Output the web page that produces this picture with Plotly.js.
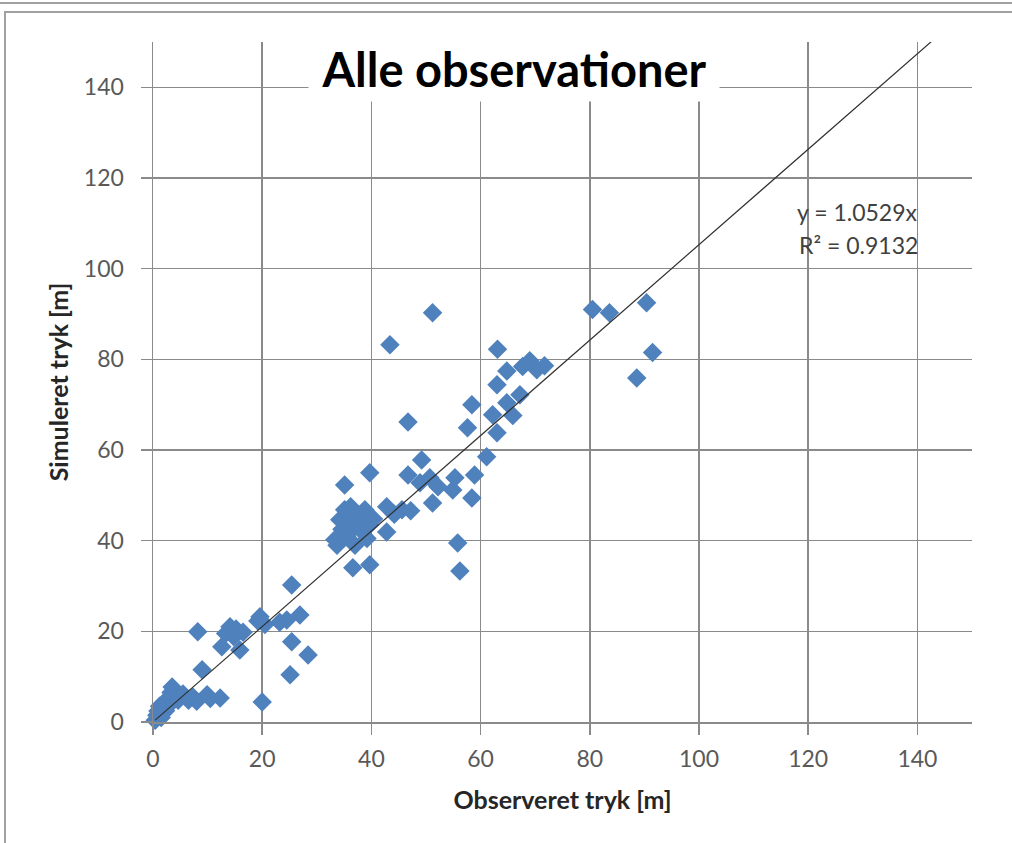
<!DOCTYPE html>
<html>
<head>
<meta charset="utf-8">
<script src="https://cdn.plot.ly/plotly-3.0.1.min.js"></script>
<style>
  html, body { margin: 0; padding: 0; background: #ffffff; }
  #topline { position: absolute; left: 0; top: 2px; width: 1012px; height: 0; border-top: 2px solid #a0a0a0; }
  #frame { position: absolute; left: 4px; top: 11px; width: 1100px; height: 900px; border-left: 2px solid #a0a0a0; border-top: 2px solid #a0a0a0; }
  #chart { position: absolute; left: 0; top: 0; width: 1012px; height: 843px; }
</style>
</head>
<body>
<div id="topline"></div>
<div id="frame"></div>
<div id="chart"></div>
<script>
// Observed pressure (x) and simulated pressure (y), metres
const obsX = [
  0.4, 0.7, 0.9, 1.2, 1.5, 1.8, 2.0, 2.3, 2.6, 3.0, 3.3, 3.5, 4.0, 4.6, 5.5, 6.5, 7.3, 8.0,
  8.2, 9.0, 9.9, 10.5, 12.3, 12.6, 13.3, 14.1, 14.8, 15.2, 15.9, 16.5, 19.2, 19.6, 20.0, 20.5,
  23.2, 24.5, 25.1, 25.4, 25.4, 26.9, 28.4,
  33.3, 33.7, 34.2, 34.6, 35.1, 35.1, 35.5, 35.8, 36.2, 36.4, 36.6, 37.0, 37.4, 37.9, 38.3,
  38.8, 39.2, 39.7, 39.7, 39.7, 40.4, 42.8, 42.8, 43.4, 44.2, 45.6, 46.7, 46.7, 47.2, 48.9,
  49.2, 50.7, 51.2, 51.2, 52.2, 54.9, 55.3, 55.8, 56.2, 57.6, 58.4, 58.4, 58.9, 61.1, 62.2,
  63.0, 63.0, 63.1, 64.8, 64.8, 65.9, 67.2, 67.7, 69.0, 70.3, 71.7, 80.5, 83.6, 88.6, 90.4, 91.5
];
const simY = [
  0.4, 1.5, 2.4, 3.5, 1.0, 3.0, 4.2, 2.5, 5.0, 3.8, 6.5, 7.7, 5.6, 4.8, 6.2, 4.8, 5.5, 4.6,
  19.9, 11.5, 6.0, 5.2, 5.3, 16.6, 19.5, 21.0, 18.8, 20.5, 15.9, 19.8, 22.3, 23.2, 4.4, 21.5,
  22.0, 22.5, 10.4, 17.7, 30.2, 23.6, 14.8,
  40.2, 39.0, 44.6, 42.5, 52.3, 46.8, 41.0, 44.0, 47.5, 42.4, 34.0, 39.0, 45.4, 44.6, 42.0,
  46.8, 40.5, 43.5, 34.7, 55.0, 44.8, 47.5, 41.9, 83.2, 45.8, 46.8, 54.5, 66.2, 46.6, 52.8,
  57.8, 53.9, 48.3, 90.3, 51.9, 51.2, 53.9, 39.5, 33.3, 64.9, 49.4, 70.0, 54.5, 58.5, 67.8,
  63.8, 74.4, 82.2, 77.4, 70.4, 67.6, 72.2, 78.4, 79.7, 77.7, 78.6, 91.0, 90.3, 75.9, 92.5, 81.5
];
// Linear trendline through origin
const trendSlope = 1.0529;
const trendR2 = 0.9132;
const trendX = [0.4, 150];
const trendY = trendX.map(v => v * trendSlope);

const xTicks = [0, 20, 40, 60, 80, 100, 120, 140];
const yTicks = [0, 20, 40, 60, 80, 100, 120, 140];

const titleText = 'Alle observationer';
const xTitle = 'Observeret tryk [m]';
const yTitle = 'Simuleret tryk [m]';

const FONT = 'Lato, "Liberation Sans", sans-serif';
const GRID = '#8a8a8a';

const traces = [
  {
    x: obsX, y: simY, type: 'scatter', mode: 'markers',
    marker: { symbol: 'diamond', size: 15, color: '#4F81BD', line: { width: 0 } },
    cliponaxis: false, hoverinfo: 'x+y'
  },
  {
    x: trendX, y: trendY, type: 'scatter', mode: 'lines',
    line: { color: '#303030', width: 1.2 }, hoverinfo: 'skip'
  }
];

const axisCommon = {
  range: [0, 150], autorange: false,
  showgrid: true, gridcolor: GRID, gridwidth: 1.5,
  zeroline: false, showline: true, linecolor: GRID, linewidth: 1.5,
  ticks: 'outside', ticklen: 11, tickcolor: GRID, tickwidth: 1.5,
  tickfont: { family: FONT, size: 23, color: '#595959' },
  fixedrange: true
};

const layout = {
  width: 1012, height: 843,
  margin: { l: 153, r: 40, t: 42, b: 121 },
  paper_bgcolor: 'rgba(0,0,0,0)', plot_bgcolor: 'rgba(0,0,0,0)',
  showlegend: false,
  xaxis: Object.assign({}, axisCommon, {
    tickvals: xTicks, ticktext: xTicks.map(String), ticklabelstandoff: 5,
    title: { text: xTitle, font: { family: FONT, size: 25, color: '#262626', weight: 'bold' }, standoff: 20 }
  }),
  yaxis: Object.assign({}, axisCommon, {
    tickvals: yTicks, ticktext: yTicks.map(String), ticklabelstandoff: 12,
    title: { text: yTitle, font: { family: FONT, size: 25, color: '#262626', weight: 'bold' }, standoff: 8 }
  }),
  annotations: [
    {
      text: '<b>' + titleText + '</b>', xref: 'paper', yref: 'paper',
      x: 0.441, y: 1, xanchor: 'center', yanchor: 'top', yshift: 6,
      showarrow: false, bgcolor: '#ffffff', width: 408, height: 62,
      font: { family: FONT, size: 47, color: '#000000' }
    },
    {
      text: 'y = ' + trendSlope.toFixed(4) + 'x', xref: 'x', yref: 'y', x: 129.0, y: 112.6,
      xanchor: 'center', yanchor: 'middle', showarrow: false,
      font: { family: FONT, size: 23, color: '#404040' }
    },
    {
      text: 'R² = ' + trendR2.toFixed(4), xref: 'x', yref: 'y', x: 129.2, y: 105.3,
      xanchor: 'center', yanchor: 'middle', showarrow: false,
      font: { family: FONT, size: 23, color: '#404040' }
    }
  ]
};

Plotly.newPlot('chart', traces, layout, { displayModeBar: false, staticPlot: true });
</script>
</body>
</html>
